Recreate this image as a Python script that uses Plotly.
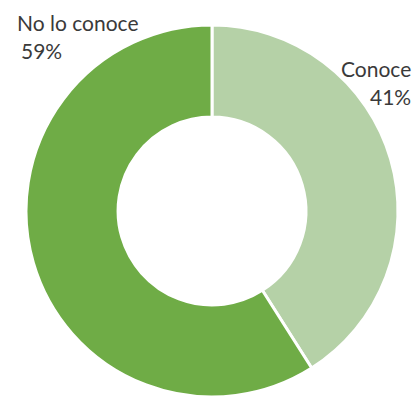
import plotly.graph_objects as go

labels = ["Conoce", "No lo conoce"]
values = [41, 59]
colors = ["#b5d1a7", "#6fac46"]

W, H = 419, 399
cx, cy, r = 212, 211, 186

fig = go.Figure(go.Pie(
    labels=labels, values=values, hole=0.505, sort=False, direction="clockwise",
    rotation=0, textinfo="none", hoverinfo="label+percent",
    marker=dict(colors=colors, line=dict(color="white", width=3)),
    domain=dict(x=[(cx - r) / W, (cx + r) / W], y=[(H - cy - r) / H, (H - cy + r) / H]),
))

font = dict(family="Lato, Calibri, sans-serif", size=21, color="#3a3a3a")
pct = [f"{v}%" for v in values]
anns = [
    dict(text=labels[1], x=15, y=22, xanchor="left"),
    dict(text=pct[1], x=19, y=50, xanchor="left"),
    dict(text=labels[0], x=413, y=68, xanchor="right"),
    dict(text=pct[0], x=413, y=96, xanchor="right"),
]
for a in anns:
    fig.add_annotation(x=a["x"] / W, y=1 - a["y"] / H, xref="paper", yref="paper",
                       text=a["text"], xanchor=a["xanchor"], yanchor="middle",
                       showarrow=False, font=font)

fig.update_layout(width=W, height=H, margin=dict(l=0, r=0, t=0, b=0),
                  showlegend=False, paper_bgcolor="white", plot_bgcolor="white")
fig.write_html("out.html")
